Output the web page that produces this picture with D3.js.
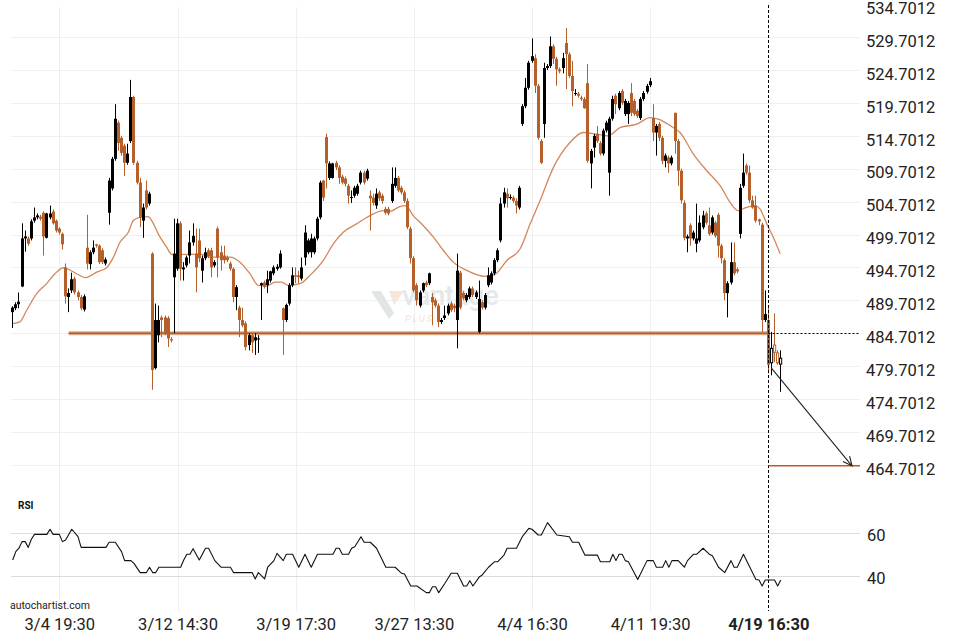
<!DOCTYPE html>
<html><head><meta charset="utf-8">
<script src="https://cdn.jsdelivr.net/npm/d3@7"></script>
<style>
html,body{margin:0;padding:0;background:#fff;}
svg{display:block;font-family:Roboto,"Noto Sans",sans-serif;}
</style>
</head><body>
<svg id="chart" width="960" height="640"></svg>
<script>
// ---------- DATA (hourly candles) ----------
const opens = [
487.9,488.5,489.1,491.8,499.1,499.1,499.1,501.8,502.3,502.4,
503.0,499.2,502.3,503.2,501.8,500.6,499.8,494.7,490.2,491.2,
493.0,490.9,490.2,488.3,497.7,495.2,497.0,498.2,498.0,497.3,
495.3,503.0,506.7,511.2,516.7,514.4,513.2,510.6,513.9,520.6,
510.6,507.6,501.8,506.4,504.4,496.8,479.4,484.4,487.1,487.1,
487.0,483.8,493.2,494.5,501.4,494.4,495.0,496.5,498.5,496.8,
498.8,494.2,496.1,497.3,497.3,495.0,500.6,497.0,496.5,496.2,
495.3,494.5,490.2,488.6,486.7,486.2,482.9,484.4,483.6,483.8,
492.0,492.4,492.0,492.7,493.8,494.5,494.7,488.5,486.7,489.2,
492.0,493.5,493.5,493.0,496.2,497.0,497.0,497.0,499.1,502.3,
507.9,514.5,508.3,508.3,510.6,509.9,508.5,508.2,507.1,505.3,
505.6,505.9,507.6,509.1,508.2,505.6,505.3,504.1,506.1,505.6,
503.6,503.6,504.8,507.1,508.3,506.8,506.1,504.8,500.6,496.1,
492.0,488.9,491.2,492.4,492.3,490.2,489.7,488.9,486.4,487.0,
487.7,489.2,488.9,486.7,493.9,490.8,489.7,490.2,491.5,490.2,
484.9,489.4,488.6,492.0,492.4,493.8,495.8,498.8,504.4,505.9,
505.3,505.3,504.8,503.8,516.5,519.2,522.0,526.1,526.5,522.3,
513.9,516.5,525.0,525.3,528.3,526.4,524.8,525.0,528.8,527.1,
523.8,521.1,521.1,520.5,520.3,522.7,510.5,512.9,515.0,513.6,
512.0,515.5,509.1,517.3,520.8,518.9,521.5,518.0,518.0,521.2,
520.0,518.5,517.4,520.3,521.4,522.4,517.4,515.2,516.5,514.4,
510.9,511.4,510.5,518.2,513.9,509.4,504.5,499.1,501.1,499.1,
498.3,498.8,500.8,502.9,501.1,500.0,501.5,502.7,498.0,495.8,
490.8,492.4,495.5,494.4,499.8,507.1,510.2,509.1,504.9,504.1,
502.0,501.2,486.7,486.7,480.2,482.9,481.7,480.0];
const highs = [
488.8,489.4,490.9,501.4,500.3,499.4,502.0,503.8,502.9,502.7,
503.2,503.0,504.1,503.5,502.0,500.8,500.0,495.3,491.5,493.9,
493.3,491.2,490.5,490.6,502.7,497.3,498.8,498.3,498.2,497.6,
496.2,508.3,511.5,519.5,517.0,514.7,513.5,513.5,523.2,520.8,
510.9,508.3,504.4,507.9,506.2,497.0,489.2,488.9,487.4,487.4,
487.3,484.1,502.1,502.1,501.7,495.5,496.5,500.3,501.4,500.6,
500.6,496.5,497.7,497.6,497.7,495.8,500.9,498.0,498.0,496.5,
495.6,494.7,492.0,488.9,488.6,486.5,484.7,484.7,484.7,484.4,
492.4,492.7,494.2,494.2,495.0,495.2,497.3,488.6,489.2,492.3,
494.7,494.7,494.2,496.2,501.1,499.1,499.8,499.4,502.4,507.9,
508.0,515.0,510.8,510.6,510.9,510.2,508.8,508.5,507.4,506.4,
507.1,507.4,509.4,509.4,509.7,506.4,505.9,506.7,506.4,505.9,
503.9,503.9,509.9,509.9,508.6,507.1,506.4,505.2,500.9,496.4,
492.3,491.2,492.4,492.7,493.9,490.8,490.0,489.2,487.0,488.9,
489.2,489.5,489.2,496.8,494.2,491.1,490.8,491.8,491.8,491.2,
492.7,489.7,490.8,494.7,494.1,496.1,497.6,505.3,506.8,506.7,
505.8,505.6,505.2,507.1,519.5,523.5,526.1,529.5,527.1,522.6,
514.2,525.8,525.6,529.8,528.6,526.7,525.1,527.3,531.1,527.4,
526.1,521.8,521.4,520.8,520.6,525.6,512.7,515.0,516.2,513.9,
515.8,517.0,517.6,520.8,521.1,521.5,521.8,520.3,520.0,522.7,
520.3,518.8,520.6,521.5,522.6,523.5,519.5,516.5,516.8,514.7,
512.0,511.7,511.7,518.2,514.2,509.7,504.9,499.7,501.4,500.3,
504.4,502.6,503.3,503.2,503.8,502.6,501.8,503.0,498.3,496.1,
492.6,498.5,498.5,494.7,507.4,512.0,510.5,510.2,505.6,505.6,
502.1,501.5,491.2,488.5,484.9,487.7,482.1,482.1];
const lows = [
485.5,488.2,488.5,491.7,497.1,498.0,498.8,501.5,502.0,501.8,
496.5,499.1,502.0,501.2,500.0,499.7,497.4,489.2,487.9,490.8,
490.6,489.7,488.2,488.0,494.4,494.4,496.7,497.7,495.2,495.2,
495.0,501.2,506.4,510.9,512.4,511.7,508.6,510.3,513.6,510.3,
507.3,500.8,499.2,503.5,504.1,476.1,479.2,483.3,484.1,484.4,
482.6,483.3,484.7,494.2,492.7,492.7,494.7,495.3,498.0,490.9,
495.5,492.4,495.8,496.1,493.2,494.7,493.2,494.2,495.3,495.5,
494.2,489.4,488.2,484.1,485.6,482.1,482.1,481.7,481.4,481.7,
486.7,491.5,490.8,492.4,493.5,494.2,494.5,481.4,486.4,488.9,
491.7,492.3,492.3,492.7,495.0,496.7,496.2,496.7,498.8,502.0,
504.8,506.7,508.0,508.2,509.5,507.4,507.3,507.0,504.4,504.5,
505.3,505.6,507.3,507.3,507.9,500.3,504.1,503.6,504.8,504.4,
502.7,502.6,504.5,506.8,506.1,505.8,504.5,500.5,495.3,490.9,
488.9,488.6,490.9,491.7,492.0,485.9,488.6,485.6,486.1,486.7,
487.4,487.9,487.9,482.4,488.3,489.7,489.4,489.9,490.2,489.9,
484.7,488.3,488.3,491.7,492.1,493.5,495.5,498.5,503.8,503.8,
505.0,504.5,502.9,503.5,516.2,518.9,521.7,525.8,521.2,514.1,
510.4,514.4,524.7,525.0,525.6,522.3,524.2,524.2,521.8,523.5,
519.2,520.8,520.5,520.0,518.8,510.6,506.7,511.4,513.6,511.7,
511.7,515.2,505.6,517.0,518.0,518.6,519.4,517.7,516.5,517.7,
517.7,517.4,517.1,520.0,521.1,522.1,513.9,511.7,513.9,510.4,
509.9,509.1,510.2,512.0,507.1,504.4,498.8,497.0,498.0,498.8,
497.0,498.5,500.5,501.2,499.5,499.7,499.2,496.2,495.3,489.7,
487.1,492.1,493.5,493.8,499.1,506.8,508.8,504.5,503.6,501.5,
501.1,484.9,486.4,478.6,478.3,480.3,479.9,475.8];
const closes = [
488.6,489.1,489.5,499.1,499.4,498.3,501.7,502.3,502.6,502.1,
499.4,502.9,502.9,501.4,500.3,500.0,498.2,490.3,490.8,492.9,
490.9,490.2,488.5,490.3,495.3,497.0,497.7,498.0,495.5,495.5,
495.9,507.9,511.2,517.3,513.6,512.1,510.6,512.0,520.6,510.6,
507.6,502.3,503.8,503.8,505.9,479.1,486.7,486.7,486.7,484.7,
483.9,483.6,496.8,501.4,494.5,494.7,496.2,498.5,499.5,494.7,
496.1,496.1,497.0,496.4,494.7,495.5,496.2,495.8,495.8,495.8,
494.5,490.2,491.7,486.7,485.9,482.6,484.4,483.3,484.1,483.9,
492.3,491.8,492.9,494.1,494.7,494.8,496.8,486.7,489.0,492.0,
493.5,493.3,493.2,494.7,500.0,498.8,499.1,499.1,502.1,507.6,
505.3,510.5,510.5,510.5,509.9,508.3,507.6,507.4,505.6,505.4,
506.8,507.1,509.1,507.6,509.4,505.2,504.5,505.9,505.2,504.8,
503.0,502.9,507.4,508.3,506.4,506.1,504.8,500.8,496.1,491.2,
489.7,490.9,492.3,492.0,493.8,489.4,488.9,486.4,486.7,487.4,
488.9,488.2,488.5,494.2,488.6,490.0,490.5,491.5,490.5,490.9,
489.9,488.6,490.5,493.5,493.8,495.8,497.3,504.4,506.1,505.2,
505.4,504.8,504.1,506.8,519.2,522.0,525.8,526.8,522.3,514.4,
510.6,525.0,525.3,528.3,526.4,524.8,524.5,526.5,527.1,523.8,
521.5,521.2,520.8,520.3,518.9,510.9,512.4,514.7,513.9,512.0,
515.5,516.7,517.3,520.3,519.5,521.2,519.7,520.0,519.7,518.2,
518.0,517.7,520.3,521.2,522.3,523.0,515.2,516.2,514.4,510.9,
511.7,510.5,511.4,513.9,509.4,504.9,499.2,499.4,499.1,500.0,
499.1,501.5,502.6,501.5,499.8,502.3,499.5,498.0,496.1,490.8,
492.3,495.5,493.8,494.1,506.8,509.1,509.1,504.9,503.8,501.8,
501.7,486.7,487.6,479.9,482.4,481.8,480.2,480.9];

// bars after this index are drawn hollow (after the pattern time)
const hollowFrom = 244;

// moving average, sampled along the curve (bar index, price)
const maIdx = [0,2.3,4.5,7.7,10.9,13.6,16.3,17.4,20.6,23.3,27.0,30.2,32.4,34.5,37.2,38.8,40.9,43.6,44.7,46.8,49.5,51.1,52.7,54.9,58.1,60.2,63.4,69.9,73.1,76.3,79.0,81.7,84.4,86.5,88.6,92.4,95.6,99.9,103.1,106.3,110.6,114.9,119.2,121.3,124.5,126.2,127.2,128.8,131.0,135.3,138.5,141.7,146.0,151.9,155.1,158.9,163.2,166.4,169.6,173.9,179.2,183.5,187.8,191.5,195.3,200.7,205.0,207.6,212.4,214.6,218.9,223.2,227.5,230.7,233.3,236.0,238.7,240.3,242.5,244.6,246.8];
const maVal = [486.17,486.41,488.19,490.71,492.23,493.74,494.65,494.50,493.74,493.14,493.99,494.65,496.26,498.53,500.05,501.82,502.32,502.43,501.82,499.80,497.77,496.67,496.52,496.67,496.67,496.77,496.26,496.26,495.50,493.74,491.97,491.87,492.47,492.47,491.97,492.23,493.49,495.76,498.29,500.05,501.32,502.58,503.34,503.23,503.94,504.09,503.74,502.58,501.56,499.29,497.27,495.50,494.24,493.33,493.64,495.76,497.53,501.32,504.85,509.90,513.68,515.20,514.95,514.70,515.95,516.47,517.47,517.23,515.95,515.20,511.92,509.39,507.12,504.59,503.34,503.84,504.09,503.59,501.32,499.29,496.77];

// RSI vertices (bar index, value)
const rsiIdx = [0,1,2,3,4,5,6,7,11,12,13,15,16,17,19,21,22,30,31,33,35,36,38,39,41,43,44,45,46,47,54,55,56,57,58,60,62,63,65,67,70,71,77,78,79,81,82,84,85,87,88,90,92,94,96,98,103,104,105,106,108,109,110,112,113,115,117,120,123,125,126,128,130,133,134,135,136,137,139,141,143,145,146,147,148,150,151,153,155,156,158,159,162,164,166,167,169,170,172,175,179,180,182,184,188,189,192,193,194,195,196,197,198,201,204,206,207,209,210,211,212,214,216,217,219,220,222,224,225,227,229,231,232,233,235,239,240,241,242,245,246,247];
const rsiVal = [47.5,51.4,53.0,56.1,56.1,53.4,57.2,59.5,59.5,61.9,59.5,59.5,56.1,56.9,61.9,58.4,53.4,53.4,55.8,55.8,51.4,47.2,47.2,45.9,41.6,41.6,44.1,41.6,41.6,44.1,44.1,47.5,50.2,50.2,52.8,47.5,53.0,53.0,47.2,44.1,44.1,41.6,41.6,38.6,41.6,38.6,44.1,47.2,50.6,47.2,50.2,50.2,44.1,50.2,44.1,50.2,50.2,53.0,53.0,50.2,50.2,53.0,53.7,58.4,55.8,55.8,53.0,44.1,44.1,41.3,40.9,35.3,35.3,32.2,32.2,35.0,35.0,32.2,36.6,41.3,41.3,35.3,35.3,37.8,35.3,39.5,40.5,44.1,46.7,46.7,49.8,53.0,53.0,58.7,62.3,61.9,59.2,59.2,65.0,59.2,58.4,55.8,55.8,49.8,49.8,46.7,46.7,50.2,47.2,50.2,50.2,47.2,46.7,38.4,47.2,47.2,44.1,44.1,47.2,44.1,47.2,47.2,44.1,47.2,50.2,50.2,53.0,50.2,49.5,44.1,41.6,47.2,44.1,44.1,50.2,38.4,38.1,35.3,38.1,38.1,35.3,38.1];

// axes
const priceTicks = [464.7012,469.7012,474.7012,479.7012,484.7012,489.7012,494.7012,499.7012,504.7012,509.7012,514.7012,519.7012,524.7012,529.7012,534.7012];
const rsiTicks = [40,60];
const timeLabels = ["3/4 19:30","3/12 14:30","3/19 17:30","3/27 13:30","4/4 16:30","4/11 19:30","4/19 16:30"];
const timeIdx = [15,53,91,129,167,205,243];

// pattern annotations
const supportLevel = 484.7012, supportStart = 18, signalIdx = 243;
const targetLevel = 464.7012;
const arrowFrom = {i:244, v:479.4}, arrowTo = {i:269.9, v:464.7012};

// ---------- DRAWING ----------
const svg = d3.select('#chart');
const plotL = 11, plotR = 860, plotT = 7;
const ORANGE = '#b5602b', BLACK = '#000';

const x = d3.scaleLinear().domain([0, 247]).range([12.7, 12.7 + 247*3.1096]);
const y = d3.scaleLinear().domain([484.7012, 529.7012]).range([333.2, 333.2 - 45*6.58]);
const yR = d3.scaleLinear().domain([40, 60]).range([576, 533.3]);

// grid
const grid = svg.append('g');
grid.selectAll('line.hg').data(priceTicks.filter(d => y(d) > plotT))
  .join('line').attr('x1', plotL).attr('x2', plotR)
  .attr('y1', d => Math.round(y(d)) + 0.5).attr('y2', d => Math.round(y(d)) + 0.5)
  .attr('stroke', '#efefef').attr('stroke-width', 1);
grid.selectAll('line.vg').data(timeIdx.slice(0, -1))
  .join('line').attr('x1', d => Math.round(x(d)) + 0.5).attr('x2', d => Math.round(x(d)) + 0.5)
  .attr('y1', plotT).attr('y2', 611).attr('stroke', '#efefef').attr('stroke-width', 1);
grid.selectAll('line.rg').data(rsiTicks)
  .join('line').attr('x1', plotL).attr('x2', plotR)
  .attr('y1', d => Math.round(yR(d)) + 0.5).attr('y2', d => Math.round(yR(d)) + 0.5)
  .attr('stroke', '#dcdcdc').attr('stroke-width', 1);

// watermark
const wm = svg.append('g');
wm.append('path').attr('d', 'M371,291 L381,291 L394,313 L389,319 Z').attr('fill', '#e1e6e4');
wm.append('path').attr('d', 'M389,291 L404,291 L394,305 Z').attr('fill', '#f7e6da');
wm.append('text').attr('x', 402).attr('y', 305).attr('font-size', 28).attr('font-weight', 500)
  .attr('fill', '#e4e8e8').attr('letter-spacing', -0.5).text('vantage');
wm.append('text').attr('x', 405).attr('y', 322).attr('font-size', 9).attr('font-style', 'italic')
  .attr('fill', '#f5e0d2').attr('letter-spacing', 2).text('PLUS');

// moving average
const maPts = maIdx.map((d, i) => [x(d), y(maVal[i])]);
svg.append('path').attr('d', d3.line().curve(d3.curveMonotoneX)(maPts))
  .attr('fill', 'none').attr('stroke', '#d3875a').attr('stroke-width', 1.3);

// support line
svg.append('line').attr('x1', x(supportStart)).attr('x2', x(signalIdx))
  .attr('y1', y(supportLevel)).attr('y2', y(supportLevel))
  .attr('stroke', '#dcaa88').attr('stroke-width', 4);
svg.append('line').attr('x1', x(supportStart)).attr('x2', x(signalIdx))
  .attr('y1', y(supportLevel)).attr('y2', y(supportLevel))
  .attr('stroke', '#b35d24').attr('stroke-width', 1.6);

// candles
const N = Math.min(opens.length, highs.length, lows.length, closes.length);
const bars = d3.range(N);
const col = i => closes[i] >= opens[i] ? BLACK : ORANGE;
const cg = svg.append('g');
cg.selectAll('line.w').data(bars).join('line')
  .attr('x1', i => Math.round(x(i) - 1.5) + 1.5).attr('x2', i => Math.round(x(i) - 1.5) + 1.5)
  .attr('y1', i => y(highs[i])).attr('y2', i => y(lows[i]))
  .attr('stroke', col).attr('stroke-width', 1);
cg.selectAll('rect.b').data(bars.filter(i => i < hollowFrom)).join('rect')
  .attr('x', i => Math.round(x(i) - 1.5))
  .attr('y', i => y(Math.max(opens[i], closes[i])))
  .attr('width', 3)
  .attr('height', i => Math.max(1, Math.abs(y(opens[i]) - y(closes[i]))))
  .attr('fill', col);
cg.selectAll('rect.h').data(bars.filter(i => i >= hollowFrom)).join('rect')
  .attr('x', i => Math.round(x(i) - 1.5) + 0.5)
  .attr('y', i => y(Math.max(opens[i], closes[i])))
  .attr('width', 2.2)
  .attr('height', i => Math.max(1, Math.abs(y(opens[i]) - y(closes[i]))))
  .attr('fill', '#fff').attr('stroke', col).attr('stroke-width', 1);

// signal markers
const sx = Math.round(x(signalIdx)) + 0.5;
svg.append('line').attr('x1', sx).attr('x2', sx).attr('y1', 5).attr('y2', 611)
  .attr('stroke', '#000').attr('stroke-width', 1).attr('stroke-dasharray', '3,2');
svg.append('line').attr('x1', sx).attr('x2', plotR)
  .attr('y1', Math.round(y(supportLevel)) + 0.5).attr('y2', Math.round(y(supportLevel)) + 0.5)
  .attr('stroke', '#000').attr('stroke-width', 1).attr('stroke-dasharray', '2,2');
svg.append('line').attr('x1', sx).attr('x2', plotR)
  .attr('y1', y(targetLevel) + 1).attr('y2', y(targetLevel) + 1)
  .attr('stroke', '#c45a1c').attr('stroke-width', 1.6);

// arrow
const ax1 = x(arrowFrom.i), ay1 = y(arrowFrom.v), ax2 = x(arrowTo.i), ay2 = y(arrowTo.v) + 1;
svg.append('line').attr('x1', ax1).attr('y1', ay1).attr('x2', ax2).attr('y2', ay2)
  .attr('stroke', '#222').attr('stroke-width', 1.1);
const ang = Math.atan2(ay2 - ay1, ax2 - ax1), hl = 10, ha = 0.45;
svg.append('path')
  .attr('d', `M${ax2 - hl*Math.cos(ang - ha)},${ay2 - hl*Math.sin(ang - ha)} L${ax2},${ay2} L${ax2 - hl*Math.cos(ang + ha)},${ay2 - hl*Math.sin(ang + ha)}`)
  .attr('fill', 'none').attr('stroke', '#222').attr('stroke-width', 1.1);

// RSI line
svg.append('path')
  .attr('d', d3.line()(rsiIdx.map((d, i) => [x(d), yR(rsiVal[i])])))
  .attr('fill', 'none').attr('stroke', '#111').attr('stroke-width', 1.1).attr('stroke-linejoin', 'round');

// axes
const yAxis = svg.append('g').attr('transform', 'translate(866,4)')
  .call(d3.axisRight(y).tickValues(priceTicks).tickFormat(d3.format('.4f')).tickSize(0).tickPadding(0));
yAxis.select('.domain').remove();
yAxis.selectAll('text').attr('font-size', 16.5).attr('font-family', 'Roboto').attr('fill', '#222');

const rAxis = svg.append('g').attr('transform', 'translate(867,2)')
  .call(d3.axisRight(yR).tickValues(rsiTicks).tickSize(0).tickPadding(0));
rAxis.select('.domain').remove();
rAxis.selectAll('text').attr('font-size', 16.5).attr('font-family', 'Roboto').attr('fill', '#222');

const xAxis = svg.append('g').attr('transform', 'translate(0,618)')
  .call(d3.axisBottom(x).tickValues(timeIdx).tickFormat((d, i) => timeLabels[i]).tickSize(0).tickPadding(0));
xAxis.select('.domain').remove();
xAxis.selectAll('text').attr('font-size', 16.5).attr('font-family', 'Roboto').attr('fill', '#222')
  .attr('font-weight', (d, i) => i === timeIdx.length - 1 ? 'bold' : 'normal');

// labels
svg.append('text').attr('x', 18).attr('y', 509).attr('font-size', 10).attr('font-weight', 'bold')
  .attr('fill', '#111').text('RSI');
svg.append('text').attr('x', 10).attr('y', 609).attr('font-size', 10.5)
  .attr('fill', '#222').text('autochartist.com');
</script>
</body></html>
